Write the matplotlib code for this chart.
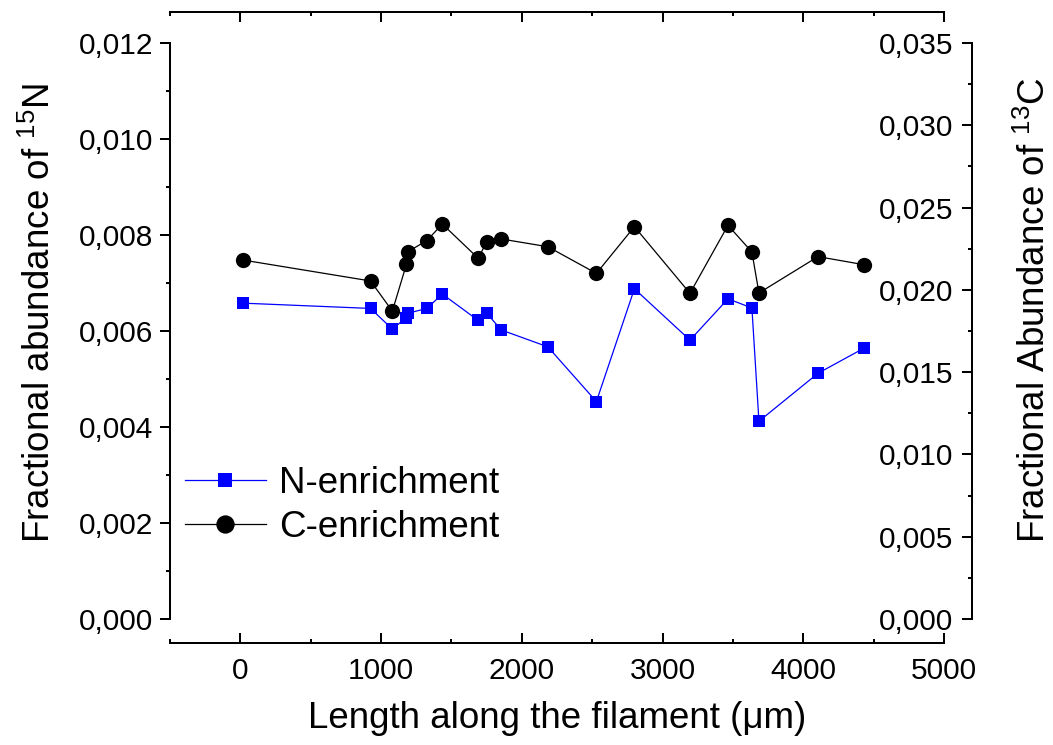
import matplotlib
matplotlib.use("Agg")
import matplotlib.pyplot as plt
from matplotlib.ticker import MultipleLocator, FuncFormatter

plt.rcParams['font.family'] = ['Liberation Sans', 'DejaVu Sans']
plt.rcParams['mathtext.fontset'] = 'custom'
plt.rcParams['mathtext.rm'] = 'Liberation Sans'
plt.rcParams['mathtext.it'] = 'Liberation Sans:italic'
plt.rcParams['mathtext.default'] = 'regular'

# positions along the filament (um)
length = [20, 925, 1080, 1180, 1190, 1325, 1435, 1690, 1750, 1855,
          2185, 2530, 2800, 3195, 3465, 3635, 3685, 4105, 4430]
# fractional abundance of 15N
n_frac = [0.00658, 0.00647, 0.00604, 0.00628, 0.00637, 0.00647, 0.00677, 0.00622, 0.00637, 0.00602,
          0.00567, 0.00453, 0.00688, 0.00581, 0.00667, 0.00648, 0.00412, 0.00512, 0.00564]
# fractional abundance of 13C
c_frac = [0.02181, 0.02054, 0.01871, 0.02155, 0.02232, 0.02299, 0.02400, 0.02192, 0.02291, 0.02309,
          0.02262, 0.02100, 0.02384, 0.01979, 0.02392, 0.02230, 0.01981, 0.02202, 0.02153]

W, H = 1053, 745
fig = plt.figure(figsize=(W / 100, H / 100), dpi=100)
x0, x1, ytop, ybot = 170, 944, 43, 619
ax = fig.add_axes([x0 / W, 1 - ybot / H, (x1 - x0) / W, (ybot - ytop) / H])
ax2 = ax.twinx()

tick_fs = 21.5
lab_fs = 26.5
lw = 1.45


def comma(v, pos):
    return f"{v:.3f}".replace('.', ',')


ln_n, = ax.plot(length, n_frac, color='#0000FF', lw=0.9, marker='s', ms=8,
                mew=0, clip_on=False, label='N-enrichment')
ln_c, = ax2.plot(length, c_frac, color='black', lw=0.9, marker='o', ms=11,
                 mew=0, clip_on=False, label='C-enrichment')

ax.set_xlim(-500, 5000)
ax.set_ylim(0, 0.012)
ax2.set_ylim(0, 0.035)

# main axes spines
ax.spines['right'].set_visible(False)
ax.spines['bottom'].set_position(('outward', 24 * 0.72))
ax.spines['top'].set_position(('outward', 31 * 0.72))
for s in ['left', 'bottom', 'top']:
    ax.spines[s].set_linewidth(lw)

ax.xaxis.set_major_locator(MultipleLocator(1000))
ax.xaxis.set_minor_locator(MultipleLocator(500))
ax.yaxis.set_major_locator(MultipleLocator(0.002))
ax.yaxis.set_minor_locator(MultipleLocator(0.001))
ax.yaxis.set_major_formatter(FuncFormatter(comma))

ax.tick_params(axis='x', which='both', direction='in', top=True, bottom=True,
               labeltop=False, width=lw, labelsize=tick_fs, pad=10)
ax.tick_params(axis='x', which='major', length=7.2)
ax.tick_params(axis='x', which='minor', length=3.2)
ax.tick_params(axis='y', which='both', direction='out', left=True, right=False,
               width=lw, labelsize=tick_fs, pad=5)
ax.tick_params(axis='y', which='major', length=7.2)
ax.tick_params(axis='y', which='minor', length=3.2)

# secondary axis: spine on the right, labels to its left
for s in ['right', 'top', 'bottom']:
    ax2.spines[s].set_visible(False)
ax2.spines['left'].set_visible(True)
ax2.spines['left'].set_position(('axes', (972 - x0) / (x1 - x0)))
ax2.spines['left'].set_linewidth(lw)
ax2.yaxis.tick_left()
ax2.yaxis.set_major_locator(MultipleLocator(0.005))
ax2.yaxis.set_minor_locator(MultipleLocator(0.0025))
ax2.yaxis.set_major_formatter(FuncFormatter(comma))
ax2.tick_params(axis='y', which='both', direction='out', width=lw,
                labelsize=tick_fs, pad=6.5)
ax2.tick_params(axis='y', which='major', length=7.2)
ax2.tick_params(axis='y', which='minor', length=3.2)

fig.text(557 / W, 1 - 718 / H, 'Length along the filament (\u03bcm)',
         fontsize=lab_fs, ha='center', va='center')
fig.text(40 / W, 1 - 313 / H, 'Fractional abundance of $^{15}$N',
         fontsize=lab_fs, rotation=90, ha='center', va='center')
fig.text(1035 / W, 1 - 310 / H, 'Fractional Abundance of $^{13}$C',
         fontsize=lab_fs, rotation=90, ha='center', va='center')

ax2.legend([ln_n, ln_c], ['N-enrichment', 'C-enrichment'], frameon=False,
           fontsize=lab_fs, loc='center left',
           bbox_to_anchor=(185 / W, 1 - 505.5 / H), bbox_transform=fig.transFigure,
           borderpad=0, borderaxespad=0, handlelength=2.2, handletextpad=0.35,
           labelspacing=0.25, markerscale=1.2)

fig.savefig('out.png', dpi=100)
